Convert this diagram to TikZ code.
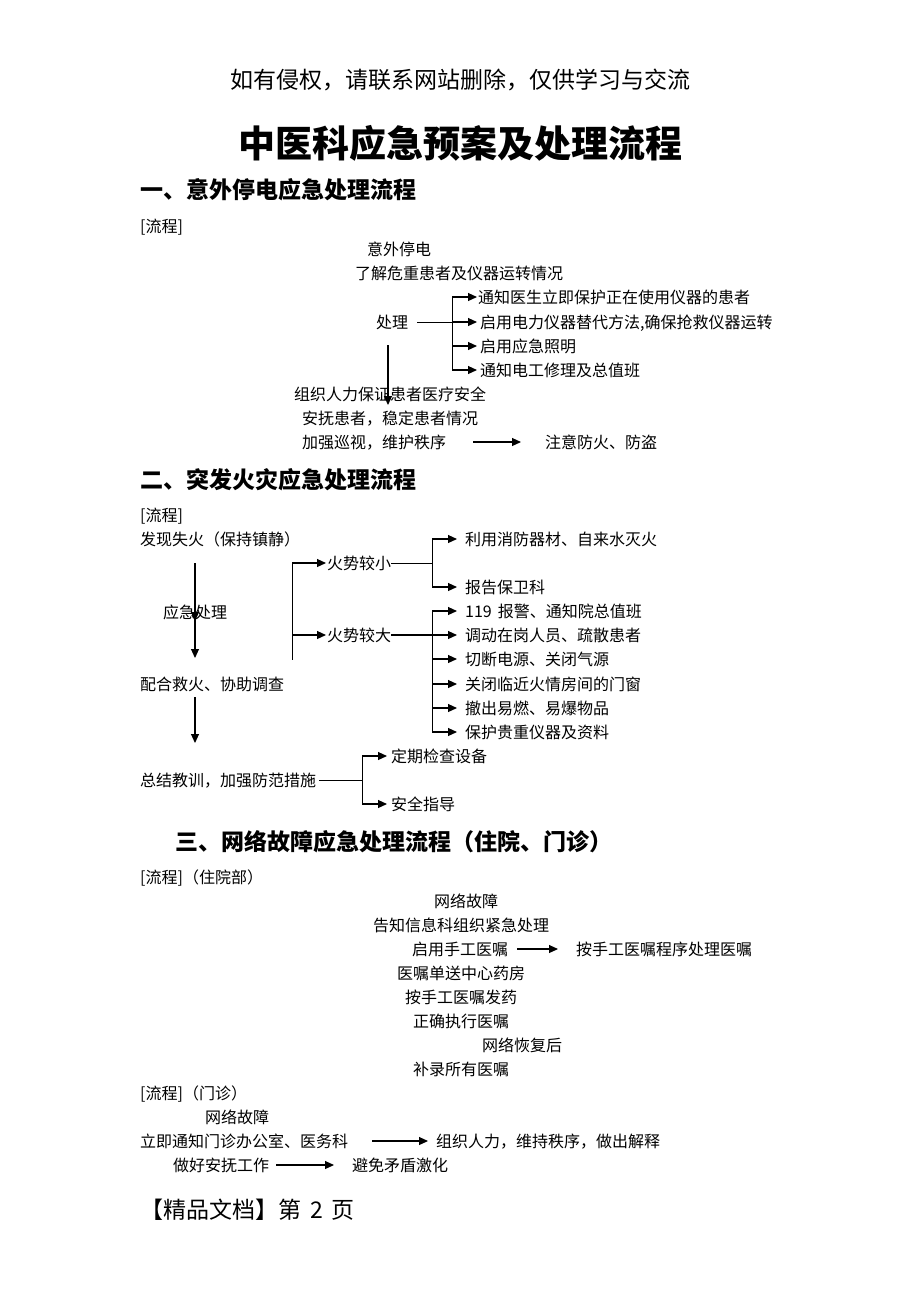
\documentclass[tikz,border=0pt]{standalone}
\usepackage{fontspec}
\setmainfont{Noto Sans CJK SC}
\usetikzlibrary{arrows.meta}
\begin{document}
\begin{tikzpicture}[x=1pt,y=-1pt,
  every node/.style={inner sep=0pt},
  tx/.style={anchor=west, font=\fontsize{16}{19}\selectfont, text height=14pt, text depth=2pt},
  hd/.style={anchor=west, font=\fontsize{23}{27}\selectfont\bfseries, text height=20.2pt, text depth=2.8pt},
  ln/.style={line width=1pt},
  ar/.style={line width=1.1pt, -{Triangle[length=9pt,width=8pt]}},
]
\useasboundingbox[fill=white] (0,0) rectangle (920,1302);

% header, title, footer
\node[font=\fontsize{23}{27}\selectfont, text height=20.2pt, text depth=2.8pt] (hdr) at (460,80) {如有侵权，请联系网站删除，仅供学习与交流};
\node[font=\fontsize{37}{42}\selectfont\bfseries, text height=32.6pt, text depth=4.4pt] (title) at (460,143) {中医科应急预案及处理流程};
\node[anchor=west, font=\fontsize{23}{27}\selectfont, text height=20.2pt, text depth=2.8pt] (ft) at (140,1210) {【精品文档】第\hspace{9pt}2\hspace{9pt}页};

% ---------- section 1
\node[hd] (s1) at (140,190) {一、意外停电应急处理流程};
\node[tx] (l1) at (140,226) {[流程]};
\node[tx] (a1) at (367,249) {意外停电};
\node[tx] (a2) at (355,273) {了解危重患者及仪器运转情况};
\node[tx] (a3) at (376,322) {处理};
\node[tx] (b1) at (478,297) {通知医生立即保护正在使用仪器的患者};
\node[tx] (b2) at (480,322) {启用电力仪器替代方法,确保抢救仪器运转};
\node[tx] (b3) at (480,346) {启用应急照明};
\node[tx] (b4) at (480,370) {通知电工修理及总值班};
\node[tx] (c1) at (294,394) {组织人力保证患者医疗安全};
\node[tx] (c2) at (302,418) {安抚患者，稳定患者情况};
\node[tx] (c3) at (302,442) {加强巡视，维护秩序};
\node[tx] (c4) at (545,442) {注意防火、防盗};

\coordinate (br1) at (452,322);
\draw[ln] ([xshift=9pt]a3.east) -- (br1);
\draw[ln] (br1 |- b1) -- (br1 |- b4);
\draw[ar] (br1 |- b1) -- ([xshift=-1pt]b1.west);
\draw[ar] (br1) -- ([xshift=-3pt]b2.west);
\draw[ar] (br1 |- b3) -- ([xshift=-3pt]b3.west);
\draw[ar] (br1 |- b4) -- ([xshift=-3pt]b4.west);
\coordinate (v1) at (388,345);
\draw[ar] (v1) -- ++(0,60);
\draw[ar] ([xshift=27pt]c3.east) -- ([xshift=-24pt]c4.west);

% ---------- section 2
\node[hd] (s2) at (140,480) {二、突发火灾应急处理流程};
\node[tx] (l2) at (140,515) {[流程]};
\node[tx] (f1) at (140,539) {发现失火（保持镇静）};
\node[tx] (f2) at (163,612) {应急处理};
\node[tx] (f3) at (140,684) {配合救火、协助调查};
\node[tx] (f4) at (140,780) {总结教训，加强防范措施};
\node[tx] (g1) at (327,563) {火势较小};
\node[tx] (g2) at (327,635) {火势较大};
\node[tx] (h1) at (465,539) {利用消防器材、自来水灭火};
\node[tx] (h2) at (465,587) {报告保卫科};
\node[tx] (h3) at (465,611) {119\hspace{6pt}报警、通知院总值班};
\node[tx] (h4) at (465,635) {调动在岗人员、疏散患者};
\node[tx] (h5) at (465,659) {切断电源、关闭气源};
\node[tx] (h6) at (465,684) {关闭临近火情房间的门窗};
\node[tx] (h7) at (465,708) {撤出易燃、易爆物品};
\node[tx] (h8) at (465,732) {保护贵重仪器及资料};
\node[tx] (k1) at (391,756) {定期检查设备};
\node[tx] (k2) at (391,804) {安全指导};

\coordinate (v2) at (195,563);
\draw[ar] (v2) -- (195,658);
\draw[ar] (v2) -- (195,621);
\coordinate (v3) at (195,697);
\draw[ar] (v3) -- (195,743);

\coordinate (lb) at (292,563);
\draw[ln] (lb) -- (292,660);
\draw[ar] (lb) -- ([xshift=-1pt]g1.west);
\draw[ar] (lb |- g2) -- ([xshift=-1pt]g2.west);

\coordinate (rb1) at (432,563);
\draw[ln] (g1.east) -- (rb1);
\draw[ln] (rb1 |- h1) -- (rb1 |- h2);
\draw[ar] (rb1 |- h1) -- ([xshift=-8pt]h1.west);
\draw[ar] (rb1 |- h2) -- ([xshift=-8pt]h2.west);

\draw[ar] (g2.east) -- ([xshift=-8pt]h4.west);
\draw[ln] (rb1 |- h3) -- (rb1 |- h8);
\foreach \n in {h3,h5,h6,h7,h8}{
  \draw[ar] (rb1 |- \n) -- ([xshift=-8pt]\n.west);
}

\coordinate (rb2) at (362,780);
\draw[ln] ([xshift=3pt]f4.east) -- (rb2);
\draw[ln] (rb2 |- k1) -- (rb2 |- k2);
\draw[ar] (rb2 |- k1) -- ([xshift=-4pt]k1.west);
\draw[ar] (rb2 |- k2) -- ([xshift=-4pt]k2.west);

% ---------- section 3
\node[hd] (s3) at (175,842) {三、网络故障应急处理流程（住院、门诊）};
\node[tx] (l3) at (140,877) {[流程]（住院部）};
\node[tx] (n1) at (434,901) {网络故障};
\node[tx] (n2) at (373,925) {告知信息科组织紧急处理};
\node[tx] (n3) at (412,949) {启用手工医嘱};
\node[tx] (n4) at (576,949) {按手工医嘱程序处理医嘱};
\node[tx] (n5) at (397,973) {医嘱单送中心药房};
\node[tx] (n6) at (405,997) {按手工医嘱发药};
\node[tx] (n7) at (413,1021) {正确执行医嘱};
\node[tx] (n8) at (482,1045) {网络恢复后};
\node[tx] (n9) at (413,1069) {补录所有医嘱};
\draw[ar] ([xshift=9pt]n3.east) -- ([xshift=-18pt]n4.west);

\node[tx] (m0) at (140,1093) {[流程]（门诊）};
\node[tx] (m1) at (205,1117) {网络故障};
\node[tx] (m2) at (140,1141) {立即通知门诊办公室、医务科};
\node[tx] (m3) at (436,1141) {组织人力，维持秩序，做出解释};
\node[tx] (m4) at (173,1165) {做好安抚工作};
\node[tx] (m5) at (352,1165) {避免矛盾激化};
\draw[ar] ([xshift=24pt]m2.east) -- ([xshift=-8pt]m3.west);
\draw[ar] ([xshift=7pt]m4.east) -- ([xshift=-18pt]m5.west);
\end{tikzpicture}
\end{document}
